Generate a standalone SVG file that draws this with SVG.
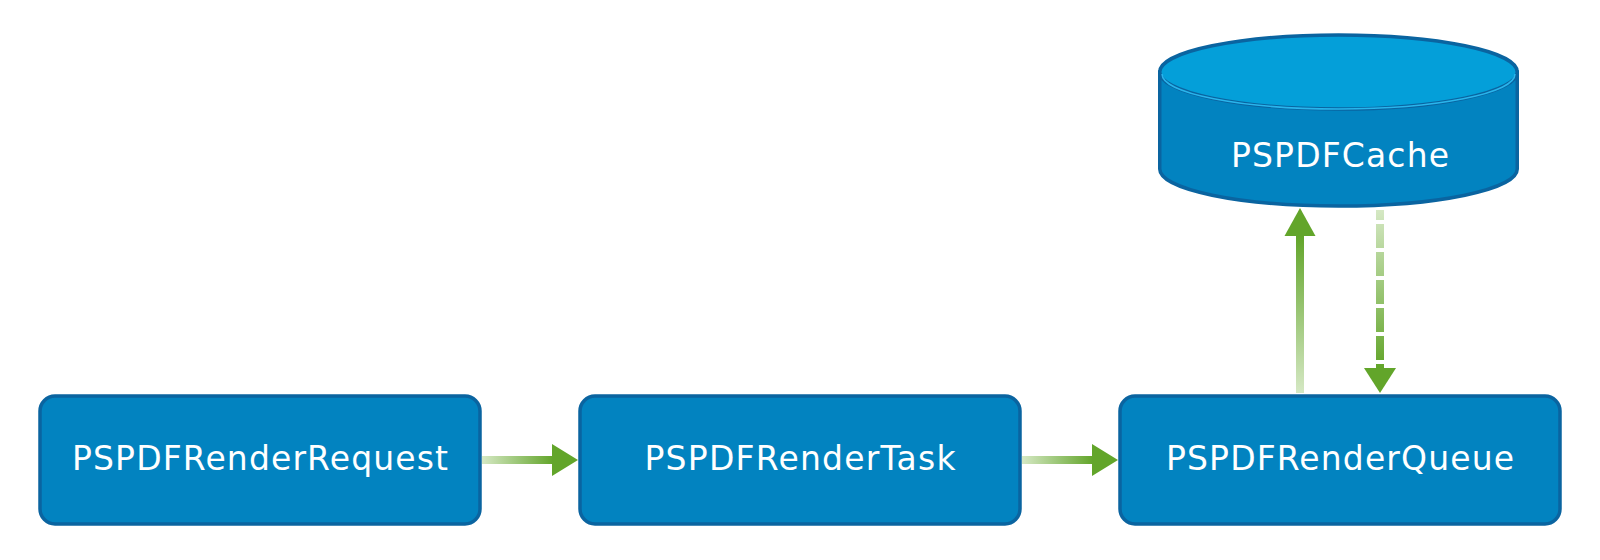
<svg xmlns="http://www.w3.org/2000/svg" width="1600" height="560" viewBox="0 0 1600 560">
<style>
.box{fill:#0283c0;stroke:#0a64a0;stroke-width:3.5}
.lbl{font-family:"DejaVu Sans","Open Sans","Liberation Sans",sans-serif;font-size:33px;fill:#ffffff;text-anchor:middle}
.conn{fill:none;stroke-width:8}
.head{fill:#62a52a}
</style>
<defs>
<linearGradient id="gh" x1="0" y1="0" x2="1" y2="0">
<stop offset="0" stop-color="#d5e8c4"/><stop offset="1" stop-color="#62a52a"/>
</linearGradient>
<linearGradient id="gup" gradientUnits="userSpaceOnUse" x1="0" y1="393" x2="0" y2="236">
<stop offset="0" stop-color="#d5e8c4"/><stop offset="1" stop-color="#62a52a"/>
</linearGradient>
<linearGradient id="gdn" gradientUnits="userSpaceOnUse" x1="0" y1="210" x2="0" y2="368">
<stop offset="0" stop-color="#d5e8c4"/><stop offset="1" stop-color="#62a52a"/>
</linearGradient>
</defs>
<g id="connectors">
<rect x="482" y="456" width="71" height="8" fill="url(#gh)"/>
<polygon class="head" points="552,444 578,460 552,476"/>
<rect x="1022" y="456" width="71" height="8" fill="url(#gh)"/>
<polygon class="head" points="1092,444 1118,460 1092,476"/>
<line x1="1300" y1="393" x2="1300" y2="234" stroke="url(#gup)" class="conn"/>
<polygon class="head" points="1284.5,236 1300,208 1315.5,236"/>
<line x1="1380" y1="210" x2="1380" y2="370" stroke="url(#gdn)" class="conn" stroke-dasharray="24,4" stroke-dashoffset="14"/>
<polygon class="head" points="1364,368 1380,393 1396,368"/>
</g>
<g id="node-cache">
<path d="M1159.75,72 L1159.75,169 A178.75,37 0 0 0 1517.25,169 L1517.25,72 Z" fill="#0283c0" stroke="#0a64a0" stroke-width="3.5"/>
<ellipse cx="1338.5" cy="72" rx="178.75" ry="37" fill="#049fd9" stroke="#0a64a0" stroke-width="3.5"/>
<path d="M1162,74 A176.5,35 0 0 0 1515,74" fill="none" stroke="#29b5ec" stroke-width="1.5"/>
<text class="lbl" x="1340" y="167" textLength="218" lengthAdjust="spacing">PSPDFCache</text>
</g>
<g id="node-request">
<rect class="box" x="40" y="396" width="440" height="128" rx="15"/>
<text class="lbl" x="260" y="470" textLength="376" lengthAdjust="spacing">PSPDFRenderRequest</text>
</g>
<g id="node-task">
<rect class="box" x="580" y="396" width="440" height="128" rx="15"/>
<text class="lbl" x="800" y="470" textLength="311" lengthAdjust="spacing">PSPDFRenderTask</text>
</g>
<g id="node-queue">
<rect class="box" x="1120" y="396" width="440" height="128" rx="15"/>
<text class="lbl" x="1340" y="470" textLength="348" lengthAdjust="spacing">PSPDFRenderQueue</text>
</g>
</svg>
